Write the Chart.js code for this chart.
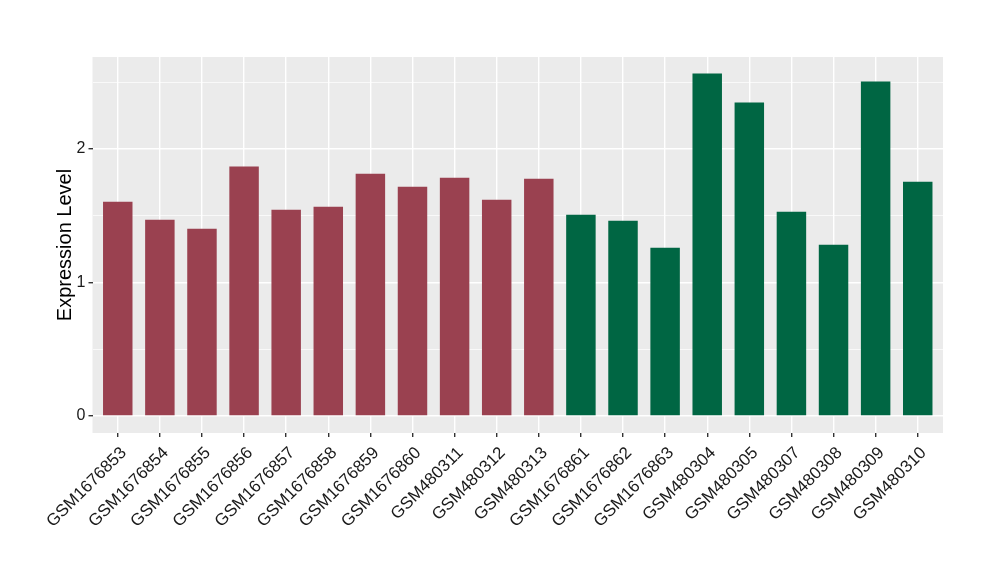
<!DOCTYPE html>
<html>
<head>
<meta charset="utf-8">
<script src="https://cdn.jsdelivr.net/npm/chart.js@4/dist/chart.umd.min.js"></script>
<style>
    html, body { margin: 0; padding: 0; background: #ffffff; }
    #wrap { width: 1000px; height: 580px; }
</style>
</head>
<body>
<div id="wrap"><canvas id="exprChart" width="1000" height="580"></canvas></div>
<script>
// samples on the x axis
const samples = [
    "GSM1676853", "GSM1676854", "GSM1676855", "GSM1676856", "GSM1676857",
    "GSM1676858", "GSM1676859", "GSM1676860", "GSM480311", "GSM480312",
    "GSM480313", "GSM1676861", "GSM1676862", "GSM1676863", "GSM480304",
    "GSM480305", "GSM480307", "GSM480308", "GSM480309", "GSM480310"
];
// expression level per sample
const values = [
    1.604, 1.469, 1.401, 1.867, 1.544, 1.566, 1.814, 1.717, 1.784, 1.619,
    1.777, 1.506, 1.461, 1.259, 2.564, 2.347, 1.529, 1.281, 2.504, 1.754
];
// 0 = first group (red), 1 = second group (green)
const groups = [0, 0, 0, 0, 0, 0, 0, 0, 0, 0, 0, 1, 1, 1, 1, 1, 1, 1, 1, 1];
const groupColors = ["#9a4150", "#006643"];
const yTicks = [0, 0.5, 1, 1.5, 2, 2.5];

const isMajor = (v) => Math.abs(v - Math.round(v)) < 1e-9;
const fontFamily = "'Liberation Sans', Arial, sans-serif";

// grey panel behind the plot
const panelBg = {
    id: "panelBg",
    beforeDraw(chart) {
        const { ctx, chartArea } = chart;
        ctx.save();
        ctx.fillStyle = "#ffffff";
        ctx.fillRect(0, 0, chart.width, chart.height);
        ctx.fillStyle = "#ebebeb";
        ctx.fillRect(chartArea.left, chartArea.top,
            chartArea.right - chartArea.left, chartArea.bottom - chartArea.top);
        ctx.restore();
    },
};

const ctx = document.getElementById("exprChart").getContext("2d");
new Chart(ctx, {
    type: "bar",
    data: {
        datasets: [
            {
                data: samples.map((s, i) => ({ x: i + 1, y: values[i] })),
                backgroundColor: groups.map((g) => groupColors[g]),
                borderWidth: 0,
                barPercentage: 0.7,
                categoryPercentage: 1,
            },
        ],
    },
    options: {
        responsive: false,
        animation: false,
        devicePixelRatio: 1,
        layout: { padding: { top: 57, right: 57, left: 0, bottom: 0 } },
        plugins: {
            legend: { display: false },
            tooltip: { enabled: false },
        },
        scales: {
            x: {
                type: "linear",
                min: 0.4,
                max: 20.6,
                offset: false,
                afterBuildTicks: (scale) => {
                    scale.ticks = samples.map((s, i) => ({ value: i + 1 }));
                },
                afterFit: (scale) => { scale.height = 147; },
                border: { display: false },
                grid: {
                    offset: false,
                    color: "#ffffff",
                    lineWidth: 1.4,
                    tickColor: "#333333",
                    tickLength: 4,
                },
                ticks: {
                    autoSkip: false,
                    minRotation: 45,
                    maxRotation: 45,
                    padding: 6,
                    labelOffset: 6,
                    color: "#1a1a1a",
                    font: { family: fontFamily, size: 17 },
                    callback: (v) => samples[Math.round(v) - 1],
                },
            },
            y: {
                min: -0.128,
                max: 2.688,
                afterBuildTicks: (scale) => {
                    scale.ticks = yTicks.map((v) => ({ value: v }));
                },
                afterFit: (scale) => { scale.width = 92.5; },
                border: { display: false },
                grid: {
                    color: "#ffffff",
                    lineWidth: (c) => (c.tick && isMajor(c.tick.value) ? 1.4 : 0.7),
                    tickColor: (c) => (c.tick && isMajor(c.tick.value) ? "#333333" : "rgba(0,0,0,0)"),
                    tickLength: 4,
                },
                ticks: {
                    padding: 3,
                    color: "#1a1a1a",
                    font: { family: fontFamily, size: 16 },
                    callback: (v) => (isMajor(v) ? String(v) : ""),
                },
                title: {
                    display: true,
                    text: "Expression Level",
                    color: "#000000",
                    padding: { top: 53, bottom: 0 },
                    font: { family: fontFamily, size: 20 },
                },
            },
        },
    },
    plugins: [panelBg],
});
</script>
</body>
</html>
